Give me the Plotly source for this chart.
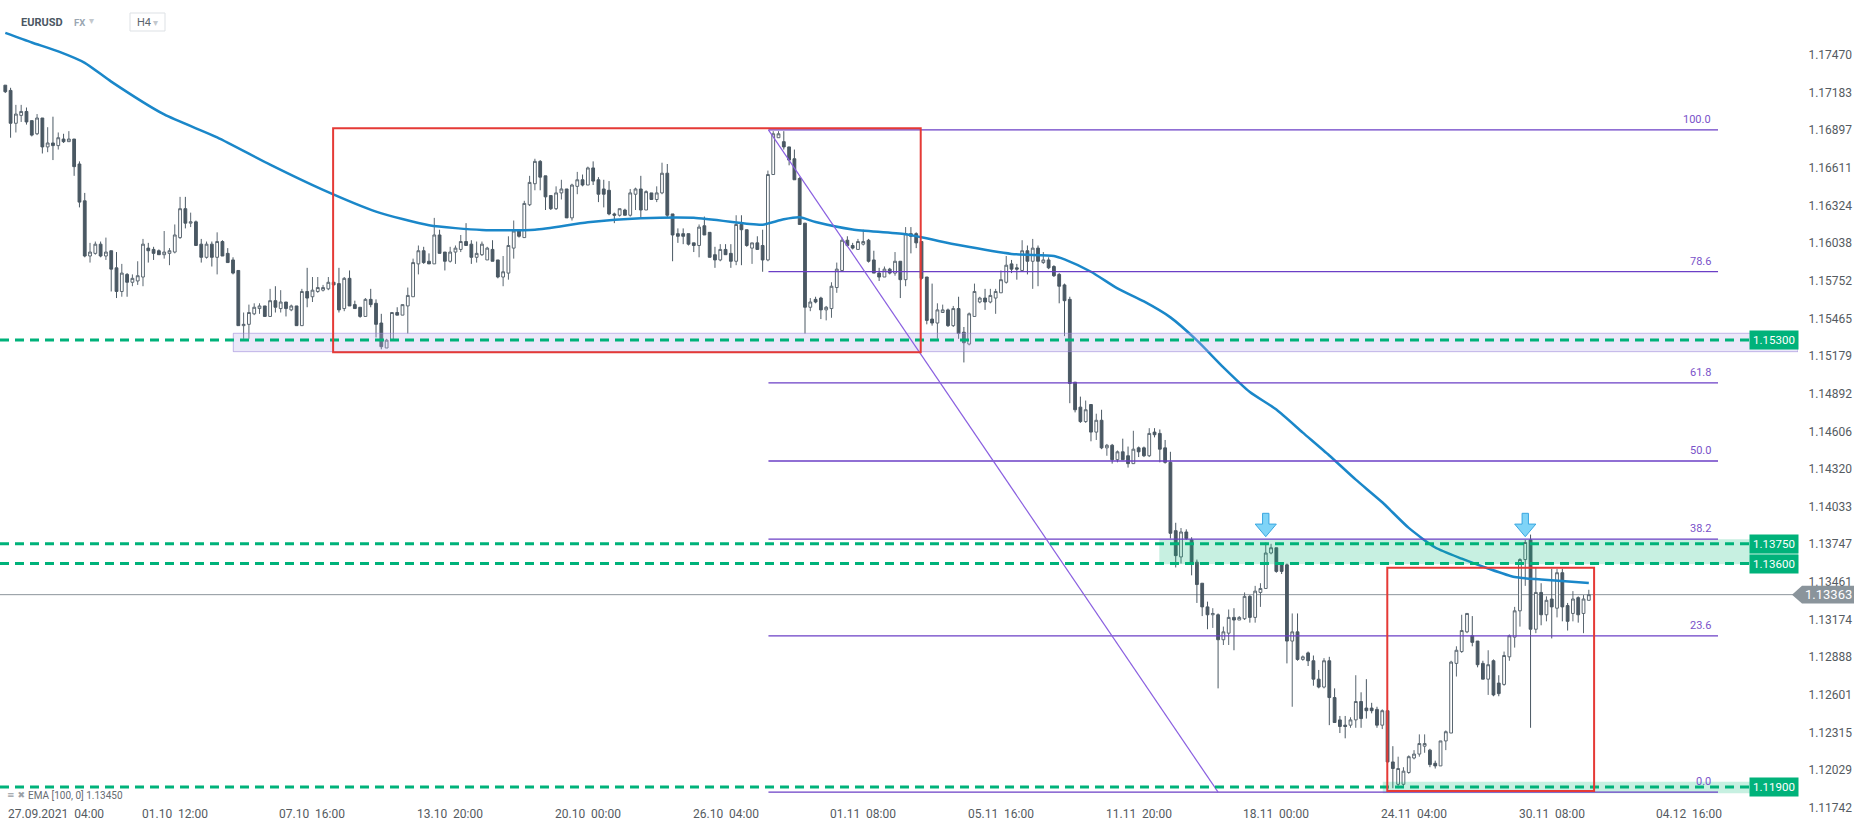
import plotly.graph_objects as go

# ---------------- data (EURUSD, H4) ----------------
opens = [
1.1724,1.1720,1.1695,1.1701,1.1704,1.1697,1.1687,1.1699,1.1677,1.1680,
1.1678,1.1683,1.1681,1.1683,1.1664,1.1636,1.1594,1.1596,1.1603,1.1594,
1.1598,1.1585,1.1567,1.1580,1.1574,1.1575,1.1578,1.1600,1.1599,1.1598,
1.1595,1.1596,1.1597,1.1608,1.1630,1.1619,1.1620,1.1603,1.1593,1.1603,
1.1593,1.1605,1.1596,1.1591,1.1583,1.1541,1.1542,1.1550,1.1554,1.1556,
1.1548,1.1560,1.1554,1.1559,1.1553,1.1556,1.1541,1.1567,1.1563,1.1567,
1.1568,1.1569,1.1574,1.1573,1.1554,1.1577,1.1557,1.1555,1.1548,1.1561,
1.1558,1.1543,1.1524,1.1530,1.1551,1.1549,1.1556,1.1563,1.1588,1.1598,
1.1590,1.1588,1.1610,1.1597,1.1590,1.1597,1.1599,1.1605,1.1603,1.1593,
1.1595,1.1591,1.1599,1.1591,1.1578,1.1581,1.1600,1.1613,1.1608,1.1633,
1.1649,1.1666,1.1655,1.1640,1.1630,1.1642,1.1645,1.1623,1.1647,1.1652,
1.1648,1.1661,1.1652,1.1645,1.1644,1.1626,1.1625,1.1629,1.1625,1.1641,
1.1645,1.1629,1.1642,1.1637,1.1642,1.1657,1.1626,1.1611,1.1611,1.1611,
1.1604,1.1602,1.1617,1.1612,1.1595,1.1591,1.1599,1.1596,1.1590,1.1618,
1.1614,1.1600,1.1604,1.1602,1.1591,1.1656,1.1684,1.1681,1.1677,1.1668,
1.1653,1.1619,1.1555,1.1561,1.1562,1.1553,1.1554,1.1570,1.1583,1.1606,
1.1602,1.1599,1.1603,1.1606,1.1591,1.1581,1.1578,1.1584,1.1581,1.1590,
1.1576,1.1611,1.1611,1.1605,1.1578,1.1546,1.1543,1.1551,1.1553,1.1541,
1.1554,1.1536,1.1527,1.1548,1.1559,1.1562,1.1559,1.1562,1.1566,1.1574,
1.1588,1.1585,1.1583,1.1598,1.1590,1.1600,1.1589,1.1591,1.1586,1.1580,
1.1572,1.1561,1.1498,1.1479,1.1468,1.1481,1.1460,1.1469,1.1448,1.1450,
1.1439,1.1445,1.1442,1.1436,1.1448,1.1448,1.1442,1.1460,1.1459,1.1448,
1.1437,1.1385,1.1365,1.1384,1.1378,1.1361,1.1345,1.1327,1.1321,1.1321,
1.1302,1.1307,1.1319,1.1317,1.1318,1.1335,1.1319,1.1338,1.1341,1.1368,
1.1372,1.1360,1.1359,1.1301,1.1308,1.1287,1.1292,1.1286,1.1272,1.1266,
1.1286,1.1258,1.1241,1.1237,1.1237,1.1241,1.1255,1.1250,1.1250,1.1249,
1.1237,1.1248,1.1209,1.1192,1.1192,1.1201,1.1212,1.1215,1.1221,1.1218,
1.1208,1.1206,1.1225,1.1231,1.1284,1.1293,1.1308,1.1305,1.1301,1.1284,
1.1272,1.1286,1.1269,1.1268,1.1289,1.1304,1.1324,1.1363,1.1378,1.1310,
1.1338,1.1321,1.1333,1.1326,1.1353,1.1328,1.1322,1.1334,1.1322,1.1332,
]
highs = [
1.1724,1.1722,1.1709,1.1709,1.1707,1.1697,1.1702,1.1699,1.1692,1.1700,
1.1688,1.1687,1.1689,1.1683,1.1666,1.1642,1.1604,1.1605,1.1605,1.1608,
1.1598,1.1597,1.1588,1.1581,1.1580,1.1590,1.1607,1.1604,1.1601,1.1599,
1.1613,1.1600,1.1618,1.1639,1.1639,1.1627,1.1621,1.1607,1.1605,1.1605,
1.1612,1.1606,1.1600,1.1593,1.1583,1.1551,1.1557,1.1558,1.1558,1.1556,
1.1569,1.1571,1.1568,1.1559,1.1557,1.1556,1.1569,1.1585,1.1578,1.1578,
1.1572,1.1578,1.1574,1.1585,1.1578,1.1583,1.1560,1.1555,1.1562,1.1569,
1.1561,1.1550,1.1531,1.1551,1.1555,1.1557,1.1570,1.1592,1.1602,1.1601,
1.1596,1.1623,1.1614,1.1597,1.1601,1.1602,1.1610,1.1619,1.1606,1.1605,
1.1605,1.1601,1.1606,1.1591,1.1594,1.1609,1.1621,1.1614,1.1636,1.1655,
1.1668,1.1667,1.1655,1.1640,1.1647,1.1652,1.1645,1.1649,1.1658,1.1656,
1.1662,1.1666,1.1654,1.1652,1.1651,1.1627,1.1630,1.1630,1.1645,1.1646,
1.1655,1.1644,1.1642,1.1647,1.1665,1.1664,1.1626,1.1615,1.1615,1.1611,
1.1604,1.1618,1.1624,1.1612,1.1601,1.1603,1.1603,1.1603,1.1625,1.1625,
1.1614,1.1604,1.1609,1.1614,1.1659,1.1689,1.1689,1.1689,1.1677,1.1675,
1.1654,1.1619,1.1562,1.1563,1.1563,1.1556,1.1574,1.1589,1.1608,1.1609,
1.1604,1.1607,1.1614,1.1607,1.1598,1.1585,1.1586,1.1585,1.1597,1.1590,
1.1616,1.1616,1.1612,1.1605,1.1578,1.1573,1.1558,1.1557,1.1554,1.1556,
1.1563,1.1540,1.1551,1.1573,1.1563,1.1569,1.1569,1.1569,1.1583,1.1594,
1.1591,1.1588,1.1606,1.1602,1.1607,1.1602,1.1597,1.1593,1.1587,1.1581,
1.1573,1.1563,1.1498,1.1487,1.1484,1.1481,1.1474,1.1477,1.1451,1.1451,
1.1446,1.1455,1.1449,1.1461,1.1449,1.1449,1.1463,1.1463,1.1462,1.1454,
1.1445,1.1391,1.1387,1.1386,1.1380,1.1363,1.1345,1.1331,1.1326,1.1322,
1.1312,1.1325,1.1326,1.1320,1.1338,1.1336,1.1343,1.1345,1.1376,1.1375,
1.1372,1.1361,1.1360,1.1322,1.1322,1.1290,1.1293,1.1290,1.1279,1.1288,
1.1289,1.1265,1.1244,1.1244,1.1243,1.1275,1.1262,1.1272,1.1254,1.1251,
1.1249,1.1248,1.1221,1.1213,1.1205,1.1214,1.1218,1.1230,1.1230,1.1219,
1.1210,1.1225,1.1233,1.1286,1.1297,1.1321,1.1322,1.1320,1.1301,1.1286,
1.1294,1.1287,1.1275,1.1293,1.1306,1.1327,1.1364,1.1378,1.1382,1.1357,
1.1345,1.1335,1.1356,1.1356,1.1356,1.1330,1.1339,1.1335,1.1336,1.1340,
]
lows = [
1.1718,1.1684,1.1688,1.1696,1.1694,1.1685,1.1686,1.1672,1.1673,1.1667,
1.1675,1.1680,1.1681,1.1655,1.1631,1.1593,1.1589,1.1595,1.1593,1.1591,
1.1567,1.1562,1.1563,1.1563,1.1571,1.1572,1.1571,1.1589,1.1591,1.1595,
1.1592,1.1587,1.1596,1.1607,1.1615,1.1616,1.1602,1.1589,1.1592,1.1586,
1.1580,1.1594,1.1589,1.1580,1.1541,1.1531,1.1531,1.1549,1.1550,1.1548,
1.1548,1.1551,1.1551,1.1548,1.1552,1.1541,1.1541,1.1555,1.1559,1.1566,
1.1567,1.1568,1.1572,1.1551,1.1552,1.1556,1.1554,1.1547,1.1548,1.1555,
1.1532,1.1523,1.1524,1.1530,1.1549,1.1549,1.1535,1.1563,1.1580,1.1588,
1.1588,1.1588,1.1596,1.1583,1.1589,1.1588,1.1597,1.1602,1.1588,1.1589,
1.1594,1.1591,1.1590,1.1577,1.1571,1.1576,1.1592,1.1608,1.1608,1.1632,
1.1644,1.1644,1.1629,1.1629,1.1629,1.1637,1.1623,1.1621,1.1641,1.1647,
1.1648,1.1648,1.1635,1.1631,1.1625,1.1619,1.1624,1.1625,1.1624,1.1629,
1.1623,1.1629,1.1637,1.1635,1.1641,1.1623,1.1590,1.1604,1.1603,1.1602,
1.1597,1.1593,1.1610,1.1593,1.1585,1.1590,1.1595,1.1585,1.1587,1.1587,
1.1601,1.1588,1.1599,1.1582,1.1590,1.1656,1.1684,1.1675,1.1663,1.1652,
1.1618,1.1535,1.1552,1.1558,1.1546,1.1545,1.1547,1.1566,1.1582,1.1601,
1.1599,1.1599,1.1602,1.1589,1.1581,1.1575,1.1578,1.1580,1.1579,1.1562,
1.1571,1.1596,1.1600,1.1576,1.1542,1.1541,1.1531,1.1551,1.1540,1.1540,
1.1531,1.1513,1.1526,1.1548,1.1558,1.1553,1.1558,1.1550,1.1566,1.1573,
1.1581,1.1576,1.1582,1.1580,1.1569,1.1571,1.1588,1.1584,1.1578,1.1558,
1.1533,1.1482,1.1475,1.1467,1.1467,1.1453,1.1454,1.1447,1.1442,1.1436,
1.1437,1.1439,1.1433,1.1436,1.1441,1.1441,1.1441,1.1456,1.1437,1.1436,
1.1379,1.1357,1.1360,1.1378,1.1351,1.1330,1.1320,1.1310,1.1311,1.1265,
1.1298,1.1298,1.1294,1.1317,1.1317,1.1315,1.1315,1.1327,1.1341,1.1367,
1.1353,1.1352,1.1284,1.1251,1.1286,1.1286,1.1282,1.1267,1.1265,1.1265,
1.1237,1.1239,1.1231,1.1227,1.1235,1.1235,1.1235,1.1242,1.1246,1.1235,
1.1234,1.1208,1.1189,1.1189,1.1190,1.1200,1.1211,1.1213,1.1216,1.1205,
1.1204,1.1206,1.1218,1.1231,1.1274,1.1292,1.1307,1.1297,1.1281,1.1272,
1.1260,1.1259,1.1259,1.1267,1.1286,1.1296,1.1312,1.1343,1.1235,1.1307,
1.1313,1.1316,1.1303,1.1319,1.1316,1.1309,1.1316,1.1315,1.1307,1.1332,
]
closes = [
1.1719,1.1695,1.1702,1.1704,1.1696,1.1686,1.1699,1.1677,1.1680,1.1678,
1.1684,1.1681,1.1683,1.1662,1.1635,1.1594,1.1597,1.1603,1.1594,1.1597,
1.1584,1.1567,1.1581,1.1574,1.1577,1.1579,1.1603,1.1598,1.1596,1.1595,
1.1597,1.1598,1.1610,1.1630,1.1619,1.1620,1.1602,1.1593,1.1603,1.1593,
1.1605,1.1594,1.1589,1.1581,1.1541,1.1542,1.1551,1.1555,1.1556,1.1548,
1.1560,1.1555,1.1559,1.1554,1.1556,1.1541,1.1567,1.1562,1.1568,1.1570,
1.1570,1.1574,1.1572,1.1553,1.1577,1.1556,1.1554,1.1548,1.1561,1.1557,
1.1542,1.1525,1.1530,1.1551,1.1549,1.1557,1.1564,1.1589,1.1598,1.1589,
1.1588,1.1610,1.1596,1.1590,1.1597,1.1600,1.1605,1.1602,1.1593,1.1596,
1.1603,1.1600,1.1590,1.1578,1.1582,1.1602,1.1613,1.1609,1.1634,1.1650,
1.1666,1.1654,1.1639,1.1630,1.1642,1.1645,1.1623,1.1648,1.1652,1.1648,
1.1661,1.1651,1.1641,1.1641,1.1626,1.1625,1.1630,1.1625,1.1642,1.1645,
1.1629,1.1643,1.1637,1.1642,1.1657,1.1625,1.1610,1.1609,1.1609,1.1603,
1.1602,1.1616,1.1610,1.1593,1.1591,1.1599,1.1595,1.1590,1.1618,1.1614,
1.1602,1.1604,1.1599,1.1591,1.1656,1.1687,1.1687,1.1677,1.1667,1.1652,
1.1618,1.1555,1.1559,1.1559,1.1553,1.1555,1.1571,1.1584,1.1606,1.1602,
1.1600,1.1605,1.1605,1.1590,1.1581,1.1578,1.1584,1.1581,1.1590,1.1576,
1.1611,1.1609,1.1604,1.1577,1.1545,1.1543,1.1553,1.1553,1.1541,1.1554,
1.1535,1.1528,1.1550,1.1567,1.1562,1.1559,1.1564,1.1567,1.1576,1.1587,
1.1584,1.1584,1.1598,1.1590,1.1600,1.1590,1.1591,1.1585,1.1579,1.1571,
1.1560,1.1497,1.1477,1.1468,1.1477,1.1460,1.1469,1.1448,1.1450,1.1439,
1.1445,1.1439,1.1436,1.1447,1.1445,1.1442,1.1459,1.1458,1.1447,1.1437,
1.1383,1.1366,1.1384,1.1379,1.1360,1.1344,1.1327,1.1321,1.1322,1.1302,
1.1308,1.1319,1.1317,1.1319,1.1335,1.1319,1.1339,1.1341,1.1368,1.1372,
1.1354,1.1354,1.1301,1.1308,1.1287,1.1289,1.1286,1.1272,1.1266,1.1286,
1.1258,1.1239,1.1236,1.1236,1.1241,1.1255,1.1242,1.1248,1.1248,1.1237,
1.1248,1.1209,1.1204,1.1204,1.1202,1.1213,1.1215,1.1223,1.1223,1.1207,
1.1206,1.1225,1.1232,1.1285,1.1294,1.1309,1.1322,1.1300,1.1283,1.1272,
1.1283,1.1260,1.1261,1.1290,1.1305,1.1324,1.1363,1.1376,1.1310,1.1338,
1.1321,1.1332,1.1327,1.1353,1.1327,1.1316,1.1333,1.1321,1.1333,1.13363,
]
assert len(opens) == len(highs) == len(lows) == len(closes) == 300

# EMA(100) at selected bars
ema_idx = [0, 5, 10, 15, 20, 30, 40, 50, 60, 70, 80, 90, 100, 110, 120, 130, 140, 143, 147, 150,
           153, 160, 170, 180, 190, 198, 200, 205, 210, 215, 220, 225, 230, 235, 240, 245, 250,
           255, 260, 265, 270, 275, 280, 285, 290, 299]
ema_val = [1.17638, 1.17565, 1.17497, 1.17410, 1.17267, 1.17017, 1.16843, 1.16635, 1.16443, 1.16278,
           1.16174, 1.16138, 1.16140, 1.16196, 1.16227, 1.16231, 1.16186, 1.16178, 1.16219, 1.16234,
           1.16199, 1.16142, 1.16105, 1.16023, 1.15956, 1.15940, 1.15914, 1.15820, 1.15693, 1.15594,
           1.15473, 1.15298, 1.15093, 1.14905, 1.14772, 1.14596, 1.14422, 1.14238, 1.14066, 1.13871,
           1.13722, 1.13637, 1.13562, 1.13497, 1.13479, 1.13452]

# axis labels
ytick_vals = [1.17470, 1.17183, 1.16897, 1.16611, 1.16324, 1.16038, 1.15752, 1.15465, 1.15179,
              1.14892, 1.14606, 1.14320, 1.14033, 1.13747, 1.13461, 1.13174, 1.12888, 1.12601,
              1.12315, 1.12029, 1.11742]
date_idx = [32, 58, 84, 110, 136, 162, 188, 214, 240, 266, 292, 318]
date_txt = ["01.10  12:00", "07.10  16:00", "13.10  20:00", "20.10  00:00", "26.10  04:00",
            "01.11  08:00", "05.11  16:00", "11.11  20:00", "18.11  00:00", "24.11  04:00",
            "30.11  08:00", "04.12  16:00"]
first_date = "27.09.2021  04:00"

# levels / drawings
support_levels = [1.15300, 1.13750, 1.13600, 1.11900]
last_price = 1.13363
ema_last = 1.13450
fib_high, fib_low = 1.16900, 1.11860
fib_ratios = [100.0, 78.6, 61.8, 50.0, 38.2, 23.6, 0.0]
fib_start, fib_end, fib_diag_end = 144.1, 323.4, 229.0
arrow_bars = [238, 287]

# ---------------- geometry ----------------
W, H = 1866, 832
PLOT_W = 1798
X0, X1 = -1.0, 338.5
Y0, Y1 = 1.11557, 1.17888


def px(x):
    return x / PLOT_W


def py(y):
    return 1 - y / H


GREEN = "#00b27a"
PURPLE = "#6b3fc6"
RED = "#e53a36"
TXT = "#555b61"

fig = go.Figure()
fig.add_trace(go.Candlestick(
    x=list(range(len(opens))), open=opens, high=highs, low=lows, close=closes,
    increasing=dict(line=dict(color="#5b6771", width=1), fillcolor="#ffffff"),
    decreasing=dict(line=dict(color="#4a5863", width=1), fillcolor="#4a5863"),
    whiskerwidth=0, showlegend=False, hoverinfo="skip"))
fig.add_trace(go.Scatter(
    x=ema_idx, y=ema_val, mode="lines",
    line=dict(color="#1a87c9", width=2.5, shape="spline", smoothing=0.6),
    showlegend=False, hoverinfo="skip"))

shapes = []
# current price line
shapes.append(dict(type="line", xref="paper", yref="y", x0=0, x1=1, y0=last_price, y1=last_price,
                   line=dict(color="#8c959c", width=1), layer="below"))
# zones
shapes.append(dict(type="rect", xref="x", yref="y", x0=43.05, x1=X1, y0=1.15212, y1=1.15352,
                   fillcolor="rgba(190,178,236,0.30)", line=dict(color="rgba(150,130,215,0.55)", width=1),
                   layer="above"))
shapes.append(dict(type="rect", xref="x", yref="y", x0=217.9, x1=X1, y0=1.13594, y1=1.13784,
                   fillcolor="rgba(0,185,120,0.22)", line=dict(width=0), layer="above"))
shapes.append(dict(type="rect", xref="x", yref="y", x0=260.1, x1=X1, y0=1.11851, y1=1.11939,
                   fillcolor="rgba(0,185,120,0.22)", line=dict(width=0), layer="above"))
# fibonacci
for r in fib_ratios:
    lv = fib_low + (fib_high - fib_low) * r / 100.0
    shapes.append(dict(type="line", xref="x", yref="y", x0=fib_start, x1=fib_end, y0=lv, y1=lv,
                       line=dict(color=PURPLE, width=1.3), layer="above"))
shapes.append(dict(type="line", xref="x", yref="y", x0=fib_start, x1=fib_diag_end, y0=fib_high, y1=fib_low,
                   line=dict(color="#8a5fe0", width=1.2), layer="above"))
# green dashed support / resistance lines
for lv in support_levels:
    shapes.append(dict(type="line", xref="paper", yref="y", x0=0, x1=px(1750), y0=lv, y1=lv,
                       line=dict(color=GREEN, width=3, dash="9px,6px"), layer="above"))
# red boxes
shapes.append(dict(type="rect", xref="x", yref="y", x0=61.9, x1=172.85, y0=1.15207, y1=1.16912,
                   line=dict(color=RED, width=2), fillcolor="rgba(0,0,0,0)", layer="above"))
shapes.append(dict(type="rect", xref="x", yref="y", x0=260.95, x1=300.0, y0=1.11869, y1=1.13568,
                   line=dict(color=RED, width=2), fillcolor="rgba(0,0,0,0)", layer="above"))
# blue arrows
for c in arrow_bars:
    top, head, tip = 1.13982, 1.13900, 1.13804
    path = (f"M {c-0.6},{top} L {c+0.6},{top} L {c+0.6},{head} L {c+2.0},{head} "
            f"L {c},{tip} L {c-2.0},{head} L {c-0.6},{head} Z")
    shapes.append(dict(type="path", xref="x", yref="y", path=path, fillcolor="#7fd4f7",
                       line=dict(color="#3aa6e0", width=1), layer="above"))
# last price tag
hh = 0.00068
shapes.append(dict(type="path", xref="paper", yref="y",
                   path=(f"M {px(1792)},{last_price} L {px(1802)},{last_price+hh} L {px(1854)},{last_price+hh} "
                         f"L {px(1854)},{last_price-hh} L {px(1802)},{last_price-hh} Z"),
                   fillcolor="#8a949b", line=dict(width=0), layer="above"))
# H4 selector box
shapes.append(dict(type="rect", xref="paper", yref="paper", x0=px(130), x1=px(165), y0=py(31), y1=py(13),
                   line=dict(color="#dde1e5", width=1), fillcolor="white", layer="above"))

ann = []
for r in fib_ratios:
    lv = fib_low + (fib_high - fib_low) * r / 100.0
    ann.append(dict(x=322.5, y=lv, xref="x", yref="y", text=f"{r:.1f}", showarrow=False,
                    xanchor="right", yanchor="bottom", yshift=2,
                    font=dict(family="Roboto", size=11, color="#7a52c9")))
for lv in support_levels:
    ann.append(dict(x=px(1774), y=lv, xref="paper", yref="y", text=f"{lv:.5f}", showarrow=False,
                    xanchor="center", yanchor="middle", bgcolor=GREEN, borderpad=2, width=44,
                    font=dict(family="Roboto", size=11.5, color="white")))
ann.append(dict(x=px(1829), y=last_price, xref="paper", yref="y", text=f"{last_price:.5f}", showarrow=False,
                xanchor="center", yanchor="middle",
                font=dict(family="Roboto", size=13, color="white")))
for i, t in zip(date_idx, date_txt):
    ann.append(dict(x=i, y=py(814), xref="x", yref="paper", text=t.replace("  ", "\u00a0 "),
                    showarrow=False, xanchor="center", yanchor="middle",
                    font=dict(family="Roboto", size=12, color=TXT)))
ann.append(dict(x=px(6), y=py(814), xref="paper", yref="paper", text=first_date.replace("  ", "\u00a0 "),
                showarrow=False, xanchor="left", yanchor="middle",
                font=dict(family="Roboto", size=12, color=TXT)))
ann.append(dict(x=px(5), y=py(795), xref="paper", yref="paper", text="\u2261 \u2716", showarrow=False,
                xanchor="left", yanchor="middle", font=dict(family="DejaVu Sans", size=9, color="#9aa0a6")))
ann.append(dict(x=px(26), y=py(795), xref="paper", yref="paper", text=f"EMA [100, 0] {ema_last:.5f}",
                showarrow=False, xanchor="left", yanchor="middle",
                font=dict(family="Roboto", size=10, color="#666c72")))
ann.append(dict(x=px(19), y=py(22), xref="paper", yref="paper", text="<b>EURUSD</b>", showarrow=False,
                xanchor="left", yanchor="middle", font=dict(family="Roboto", size=11, color="#4b5763")))
ann.append(dict(x=px(72), y=py(22), xref="paper", yref="paper", text="<b>FX</b>", showarrow=False,
                xanchor="left", yanchor="middle", font=dict(family="Roboto", size=9.5, color="#9aa6b2")))
ann.append(dict(x=px(87), y=py(21), xref="paper", yref="paper", text="\u25be", showarrow=False,
                xanchor="left", yanchor="middle", font=dict(family="DejaVu Sans", size=10, color="#c3c8cd")))
ann.append(dict(x=px(135), y=py(22), xref="paper", yref="paper", text="H4", showarrow=False,
                xanchor="left", yanchor="middle", font=dict(family="Roboto", size=11, color="#5a646d")))
ann.append(dict(x=px(151), y=py(23), xref="paper", yref="paper", text="\u25be", showarrow=False,
                xanchor="left", yanchor="middle", font=dict(family="DejaVu Sans", size=10, color="#c3c8cd")))

fig.update_layout(
    width=W, height=H,
    margin=dict(l=0, r=W - PLOT_W, t=0, b=0),
    paper_bgcolor="white", plot_bgcolor="white",
    font=dict(family="Roboto"),
    boxgap=0.25,
    showlegend=False,
    shapes=shapes, annotations=ann,
    xaxis=dict(range=[X0, X1], showgrid=False, zeroline=False, showticklabels=False, showline=False,
               rangeslider=dict(visible=False), fixedrange=True),
    yaxis=dict(range=[Y0, Y1], side="right", tickvals=ytick_vals,
               ticktext=[f"{v:.5f}" for v in ytick_vals],
               showgrid=False, zeroline=False, showline=False,
               ticks="outside", ticklen=7, tickcolor="rgba(0,0,0,0)",
               tickfont=dict(family="Roboto", size=12, color=TXT), fixedrange=True),
)

fig.write_html("out.html", config={"displayModeBar": False},
               post_script="document.body.style.margin='0';document.body.style.overflow='hidden';")
